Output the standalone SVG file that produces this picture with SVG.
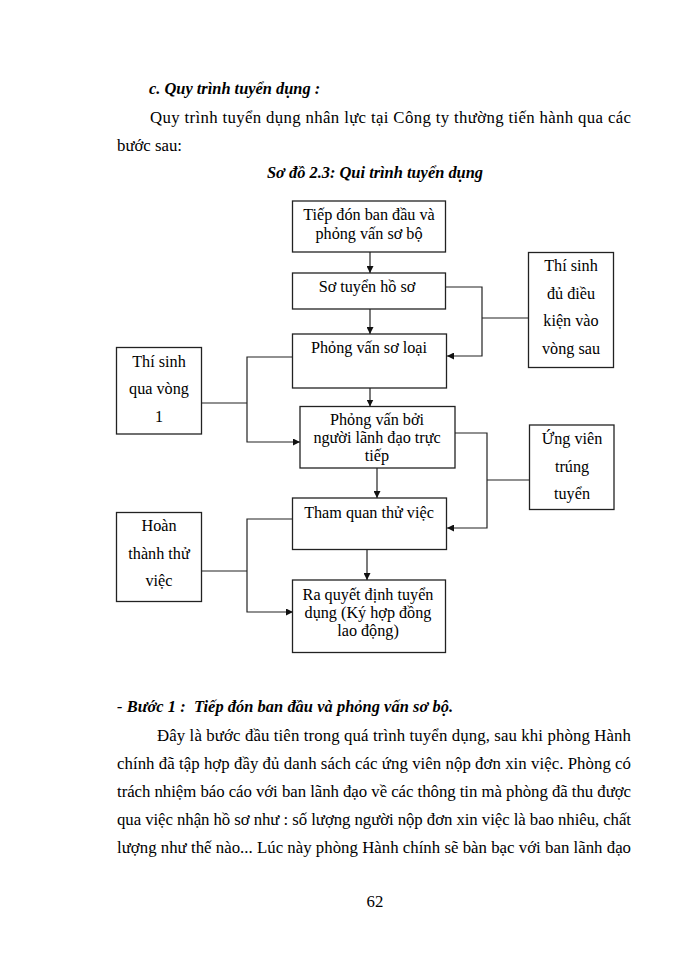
<svg xmlns="http://www.w3.org/2000/svg" width="700" height="960" viewBox="0 0 700 960">
<style>
.bg{fill:#ffffff}
.box{fill:#ffffff;stroke:#222;stroke-width:1.3}
.ln{fill:none;stroke:#222;stroke-width:1.2}
.t{font-family:"Liberation Serif","Times New Roman",serif;font-size:16.2px;fill:#000;text-anchor:middle}
.p{font-family:"Liberation Serif","Times New Roman",serif;font-size:16.8px;fill:#000}
.h{font-family:"Liberation Serif","Times New Roman",serif;font-size:16.4px;font-weight:bold;font-style:italic;fill:#000}
</style>
<defs>
<marker id="ah" viewBox="0 0 8 8" refX="8" refY="4" markerWidth="7" markerHeight="7" markerUnits="userSpaceOnUse" orient="auto">
<path d="M0,0 L8,4 L0,8 Z" fill="#111"/>
</marker>
</defs>
<rect class="bg" x="0" y="0" width="700" height="960"/>

<g id="page-text">
<text class="h" x="149" y="94">c. Quy trình tuyển dụng :</text>
<text class="p" x="150" y="123" textLength="481" lengthAdjust="spacing">Quy trình tuyển dụng nhân lực tại Công ty thường tiến hành qua các</text>
<text class="p" x="117" y="151">bước sau:</text>
<text class="h" x="375" y="178" text-anchor="middle">Sơ đồ 2.3: Qui trình tuyển dụng</text>
<text class="h" x="117" y="712" xml:space="preserve" textLength="336" lengthAdjust="spacing">- Bước 1 :  Tiếp đón ban đầu và phỏng vấn sơ bộ.</text>
<text class="p" x="157" y="741" textLength="474" lengthAdjust="spacing">Đây là bước đầu tiên trong quá trình tuyển dụng, sau khi phòng Hành</text>
<text class="p" x="117" y="769" textLength="514" lengthAdjust="spacing">chính đã tập hợp đầy đủ danh sách các ứng viên nộp đơn xin việc. Phòng có</text>
<text class="p" x="117" y="797" textLength="514" lengthAdjust="spacing">trách nhiệm báo cáo với ban lãnh đạo về các thông tin mà phòng đã thu được</text>
<text class="p" x="117" y="825" textLength="514" lengthAdjust="spacing">qua việc nhận hồ sơ như : số lượng người nộp đơn xin việc là bao nhiêu, chất</text>
<text class="p" x="117" y="853" textLength="514" lengthAdjust="spacing">lượng như thế nào... Lúc này phòng Hành chính sẽ bàn bạc với ban lãnh đạo</text>
<text class="p" x="375" y="907" text-anchor="middle" font-size="15.5">62</text>
</g>

<g id="connectors">
<line class="ln" x1="370" y1="252" x2="370" y2="273" marker-end="url(#ah)"/>
<line class="ln" x1="370" y1="309" x2="370" y2="334" marker-end="url(#ah)"/>
<line class="ln" x1="370" y1="388" x2="370" y2="406.5" marker-end="url(#ah)"/>
<line class="ln" x1="377" y1="468" x2="377" y2="498" marker-end="url(#ah)"/>
<line class="ln" x1="367" y1="549.5" x2="367" y2="580" marker-end="url(#ah)"/>
<polyline class="ln" points="446,287 482,287 482,356 447,356" marker-end="url(#ah)"/>
<line class="ln" x1="528" y1="318" x2="482" y2="318"/>
<polyline class="ln" points="455,433 487,433 487,528 447,528" marker-end="url(#ah)"/>
<line class="ln" x1="529" y1="480" x2="487" y2="480"/>
<polyline class="ln" points="293,357 247,357 247,442 300,442" marker-end="url(#ah)"/>
<line class="ln" x1="202" y1="403" x2="247" y2="403"/>
<polyline class="ln" points="293,519 247,519 247,612 293,612" marker-end="url(#ah)"/>
<line class="ln" x1="202" y1="571" x2="247" y2="571"/>
</g>

<g id="n-tiep-don">
<rect class="box" x="292.5" y="201" width="153" height="51"/>
<text class="t" x="369" y="220">Tiếp đón ban đầu và</text>
<text class="t" x="369" y="239">phỏng vấn sơ bộ</text>
</g>
<g id="n-so-tuyen">
<rect class="box" x="292.5" y="273" width="153" height="36"/>
<text class="t" x="367" y="292">Sơ tuyển hồ sơ</text>
</g>
<g id="n-pv-so-loai">
<rect class="box" x="292.5" y="334" width="154" height="54"/>
<text class="t" x="369" y="353">Phỏng vấn sơ loại</text>
</g>
<g id="n-pv-lanh-dao">
<rect class="box" x="300" y="406.5" width="155" height="61.5"/>
<text class="t" x="377" y="425">Phỏng vấn bởi</text>
<text class="t" x="377" y="443">người lãnh đạo trực</text>
<text class="t" x="377" y="461">tiếp</text>
</g>
<g id="n-tham-quan">
<rect class="box" x="292.5" y="498" width="154" height="51.5"/>
<text class="t" x="369" y="518">Tham quan thử việc</text>
</g>
<g id="n-ra-quyet-dinh">
<rect class="box" x="292.5" y="580" width="153" height="72.5"/>
<text class="t" x="368" y="600">Ra quyết định tuyển</text>
<text class="t" x="368" y="618">dụng (Ký hợp đồng</text>
<text class="t" x="368" y="636">lao động)</text>
</g>
<g id="n-thi-sinh-du-dk">
<rect class="box" x="528.5" y="252.5" width="85" height="115"/>
<text class="t" x="571" y="271">Thí sinh</text>
<text class="t" x="571" y="298.5">đủ điều</text>
<text class="t" x="571" y="326">kiện vào</text>
<text class="t" x="571" y="353.5">vòng sau</text>
</g>
<g id="n-ung-vien">
<rect class="box" x="529.5" y="425" width="84.5" height="84.5"/>
<text class="t" x="572" y="444">Ứng viên</text>
<text class="t" x="572" y="471.5">trúng</text>
<text class="t" x="572" y="499">tuyển</text>
</g>
<g id="n-thi-sinh-vong1">
<rect class="box" x="116.5" y="347.5" width="85" height="86.5"/>
<text class="t" x="159" y="366.5">Thí sinh</text>
<text class="t" x="159" y="394">qua vòng</text>
<text class="t" x="159" y="421.5">1</text>
</g>
<g id="n-hoan-thanh">
<rect class="box" x="116.5" y="512.5" width="85" height="89"/>
<text class="t" x="159" y="531">Hoàn</text>
<text class="t" x="159" y="558.5">thành thử</text>
<text class="t" x="159" y="586">việc</text>
</g>
</svg>
